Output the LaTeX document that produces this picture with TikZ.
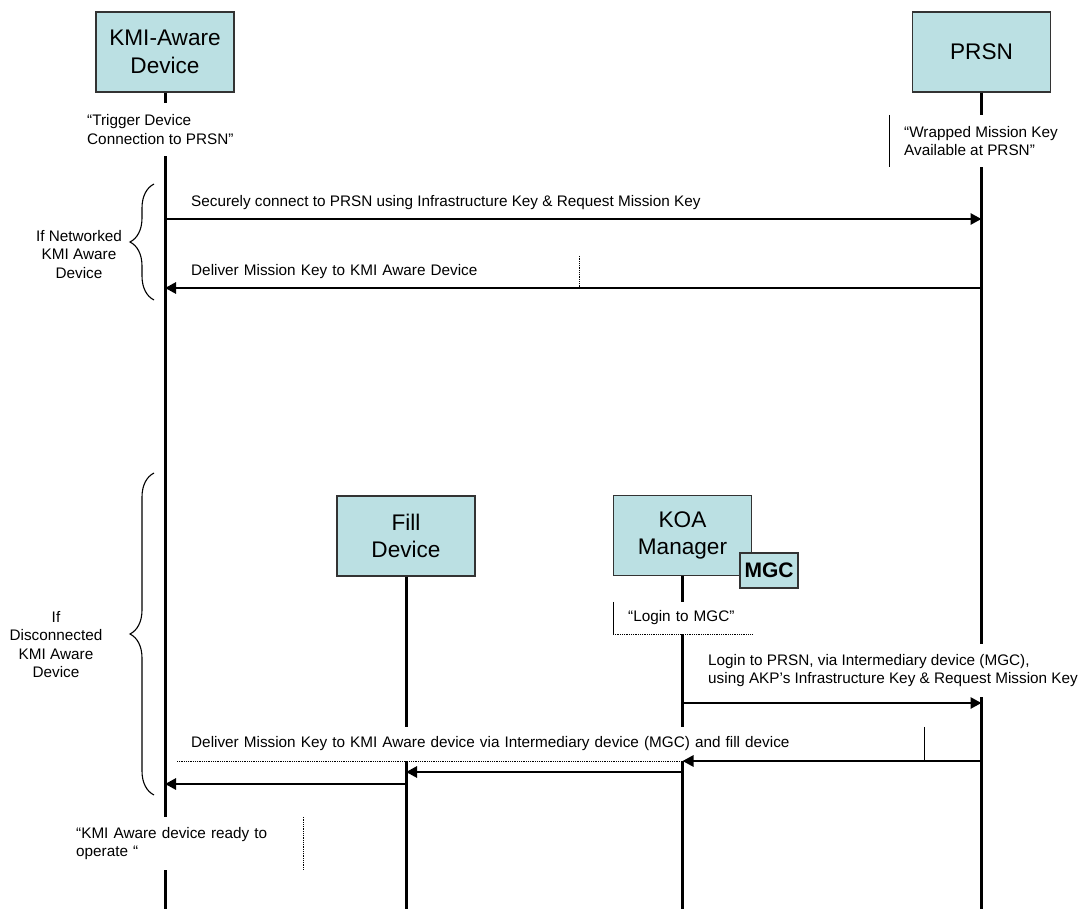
\documentclass[tikz,border=0pt]{standalone}
\usepackage{fontspec}
\setmainfont{Liberation Sans}
\usetikzlibrary{arrows.meta,decorations.pathreplacing}
\definecolor{boxfill}{HTML}{BBE0E3}
\definecolor{boxline}{HTML}{333333}
\begin{document}
\begin{tikzpicture}[x=1pt,y=-1pt,
  actor/.style={draw=boxline, line width=1.2pt, fill=boxfill, minimum width=138pt,
    minimum height=80pt, inner sep=0pt, align=center, font=\fontsize{22.6}{27.5}\selectfont},
  tag/.style={draw=boxline, line width=1.2pt, fill=boxfill, minimum width=58pt,
    minimum height=35pt, inner sep=0pt, font=\fontsize{21}{25}\selectfont\bfseries},
  lifeline/.style={line width=3pt},
  msg/.style={line width=2.9pt, -{Triangle[length=11pt,width=11pt]}},
  lbl/.style={inner sep=0pt, align=left, font=\fontsize{15.3}{18.4}\selectfont},
  panel/.style={lbl, fill=white, inner xsep=14pt},
  bracestyle/.style={decorate, decoration={brace, amplitude=24pt}, line width=1.1pt},
  edge/.style={line width=0.7pt},
  dotedge/.style={line width=0.8pt, densely dotted}
]
\useasboundingbox (0,0) rectangle (1081,909);

% participants
\node[actor] (kmi)  at (165,52)    {KMI-Aware\\Device};
\node[actor] (prsn) at (981.5,52)  {PRSN};
\node[actor] (fill) at (406,536)   {Fill\\Device};
\node[actor] (koa)  at (682.5,535.5) {KOA\\Manager};
\node[tag]   (mgc)  at (769,570.5) {MGC};

% message rows and page bottom
\coordinate (r1) at (0,219);
\coordinate (r2) at (0,288);
\coordinate (r3) at (0,703);
\coordinate (r4) at (0,761);
\coordinate (r5) at (0,772);
\coordinate (r6) at (0,784);
\coordinate (bot) at (0,909);

% lifelines
\draw[lifeline] (kmi.south)  -- (kmi.south |- bot);
\draw[lifeline] (prsn.south) -- (prsn.south |- bot);
\draw[lifeline] (fill.south) -- (fill.south |- bot);
\draw[lifeline] (koa.south)  -- (koa.south |- bot);

% notes and message labels
\node[panel, inner xsep=0pt, anchor=west, minimum height=53pt] (trig) at (87,129.5)
  {“Trigger Device\\Connection to PRSN”};
\node[panel, inner xsep=15pt, anchor=west, minimum height=52pt] (wrap) at (889,141)
  {“Wrapped Mission Key\\Available at PRSN”};
\draw[edge] (wrap.north west) -- (wrap.south west);

\node[lbl, anchor=west] (m1) at (191,203)
  {Securely connect to PRSN using Infrastructure Key \& Request Mission Key};
\node[panel, anchor=west, text width=374pt, minimum height=32pt] (m2) at (177,272)
  {Deliver Mission Key to KMI Aware Device};
\draw[dotedge] (m2.north east) -- (m2.south east);

\node[panel, inner xsep=15pt, anchor=west, text width=109pt, minimum height=32pt] (login) at (613,618)
  {“Login to MGC”};
\draw[edge] (login.north west) -- (login.south west);
\draw[dotedge] (login.south west) -- (login.south east);

\node[lbl, fill=white, anchor=west, minimum height=53pt] (m3) at (708,670.5)
  {Login to PRSN, via Intermediary device (MGC),\\using AKP’s Infrastructure Key \& Request Mission Key};

\node[panel, anchor=west, text width=719pt, minimum height=34pt] (m4) at (177,744)
  {Deliver Mission Key to KMI Aware device via Intermediary device (MGC) and fill device};
\draw[dotedge] (m4.south west) -- (m4.south east);
\draw[edge] (m4.north east) -- (m4.south east);

\node[panel, anchor=west, text width=213pt, minimum height=53pt] (ready) at (62,843.5)
  {“KMI Aware device ready to\\operate “};
\draw[dotedge] (ready.north east) -- (ready.south east);

% messages
\draw[msg] (kmi |- r1)  -- (prsn |- r1);
\draw[msg] (prsn |- r2) -- (kmi |- r2);
\draw[msg] (koa |- r3)  -- (prsn |- r3);
\draw[msg] (prsn |- r4) -- (koa |- r4);
\draw[msg] (koa |- r5)  -- (fill |- r5);
\draw[msg] (fill |- r6) -- (kmi |- r6);

% alternatives
\coordinate (b1top) at (154,184);
\coordinate (b1bot) at (154,300);
\coordinate (b2top) at (154,473);
\coordinate (b2bot) at (154,795);
\draw[bracestyle] (b1bot) -- (b1top);
\draw[bracestyle] (b2bot) -- (b2top);
\node[lbl, align=center] (netlbl)  at (79,254.5) {If Networked\\KMI Aware\\Device};
\node[lbl, align=center] (disclbl) at (56,644.5) {If\\Disconnected\\KMI Aware\\Device};
\end{tikzpicture}
\end{document}
